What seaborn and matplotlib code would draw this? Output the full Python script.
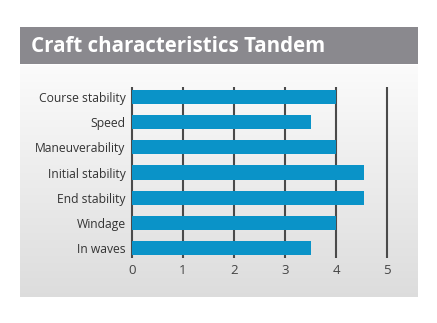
import numpy as np
import pandas as pd
import matplotlib
matplotlib.use("Agg")
import matplotlib.pyplot as plt
from matplotlib.patches import Rectangle
import seaborn as sns

# Ratings for the Tandem craft
categories = ["Course stability", "Speed", "Maneuverability", "Initial stability",
              "End stability", "Windage", "In waves"]
scores = [4.0, 3.5, 4.0, 4.55, 4.55, 4.0, 3.5]
x_ticks = [0, 1, 2, 3, 4, 5]
title = "Craft characteristics Tandem"

df = pd.DataFrame({"characteristic": categories, "score": scores})

sns.set_theme(style="white")
plt.rcParams["font.family"] = ["Open Sans", "DejaVu Sans"]

W, H = 437, 323
fig = plt.figure(figsize=(W / 100, H / 100), dpi=100)
fig.patch.set_facecolor("white")


def frect(x0, y0, x1, y1):
    """Pixel box (top-left origin) -> figure fraction [l, b, w, h]."""
    return [x0 / W, (H - y1) / H, (x1 - x0) / W, (y1 - y0) / H]


# Soft vertical gradient panel behind the chart
bg = fig.add_axes(frect(20, 65, 418, 297), zorder=0)
grad = np.linspace(0.985, 0.865, 256).reshape(-1, 1)
bg.imshow(np.dstack([grad, grad, grad]), aspect="auto", extent=[0, 1, 0, 1])
bg.set_axis_off()

# Title bar
fig.patches.append(Rectangle((20 / W, (H - 64) / H), 398 / W, 37 / H,
                             transform=fig.transFigure, facecolor="#8a898e",
                             edgecolor="none", zorder=1))
fig.text(31 / W, (H - 46) / H, title, color="white", fontsize=14.8,
         fontweight="bold", va="center", ha="left", zorder=2)

# Main bar chart
pad = 0.1
unit = 51.0
x0_px = 132 - pad * unit
x1_px = 387 + pad * unit
ax = fig.add_axes(frect(x0_px, 87, x1_px, 258), zorder=3)
ax.patch.set_alpha(0)

sns.barplot(data=df, y="characteristic", x="score", orient="h",
            color="#0a93c8", saturation=1, width=0.56, ax=ax, zorder=3,
            edgecolor="none", linewidth=0)

ax.set_xlim(-pad, 5 + pad)
ax.set_ylim(6.4, -0.4)
ax.set_xticks(x_ticks)
ax.set_xticklabels([str(t) for t in x_ticks])
for t in x_ticks:
    ax.axvline(t, color="#4a4a4a", linewidth=1.5, zorder=1)

for s in ax.spines.values():
    s.set_visible(False)
ax.set_xlabel("")
ax.set_ylabel("")
ax.tick_params(axis="y", length=0, labelsize=8.7, colors="#333333", pad=1)
ax.tick_params(axis="x", length=0, labelsize=9.5, colors="#444444", pad=4)

fig.savefig("out.png", dpi=100)
